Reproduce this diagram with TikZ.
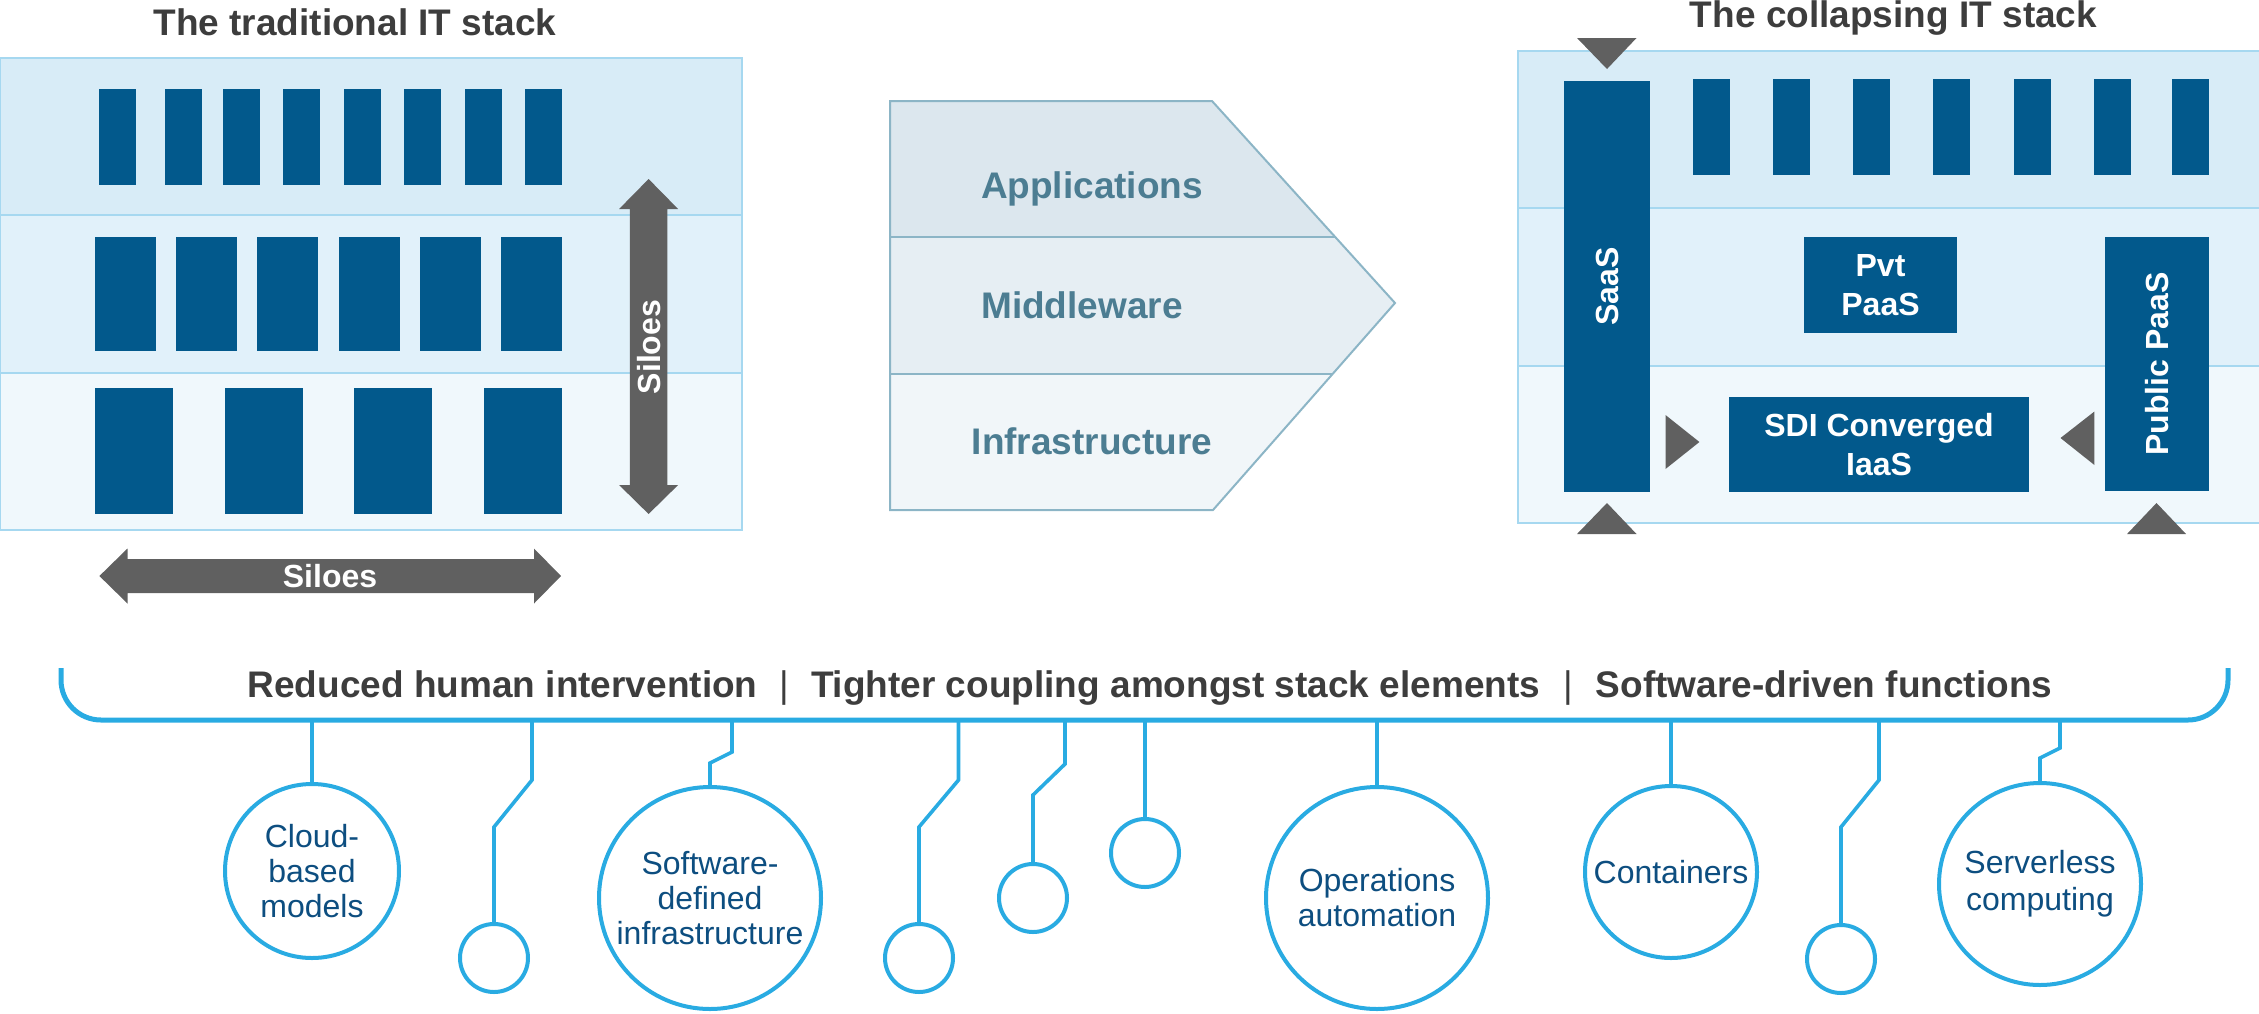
\documentclass[tikz,border=0pt]{standalone}
\usepackage{fontspec}
\setmainfont{Liberation Sans}
\definecolor{barblue}{HTML}{02598C}
\definecolor{bandA}{HTML}{D8ECF7}
\definecolor{bandB}{HTML}{E1F1FA}
\definecolor{bandC}{HTML}{F0F8FC}
\definecolor{bandline}{HTML}{A6D8F0}
\definecolor{arrowgray}{HTML}{606060}
\definecolor{titlegray}{HTML}{3D3D3D}
\definecolor{pentA}{HTML}{DCE7EE}
\definecolor{pentB}{HTML}{E6EEF3}
\definecolor{pentC}{HTML}{F1F6F9}
\definecolor{pentline}{HTML}{8CB5C6}
\definecolor{penttext}{HTML}{4C7D92}
\definecolor{cyanline}{HTML}{29ABE2}
\definecolor{circtext}{HTML}{0D4E80}
\tikzset{
  titletext/.style={font=\bfseries\fontsize{18.5pt}{22pt}\selectfont, text=titlegray, inner sep=0pt, anchor=base},
  layertext/.style={font=\bfseries\fontsize{18.5pt}{22pt}\selectfont, text=penttext, inner sep=0pt, anchor=base},
  bluebox/.style={fill=barblue, inner sep=0pt, text=white, align=center, font=\bfseries\fontsize{16pt}{19.5pt}\selectfont},
  silotext/.style={text=white, inner sep=0pt, font=\bfseries\fontsize{16pt}{19pt}\selectfont},
  bracketline/.style={draw=cyanline, line width=2.5pt, rounded corners=20pt},
  conn/.style={draw=cyanline, line width=1.8pt},
  bubble/.style={circle, draw=cyanline, line width=2pt, fill=white, inner sep=0pt, text=circtext, align=center, font=\fontsize{16pt}{17.5pt}\selectfont},
  dot/.style={bubble, minimum size=34pt},
  pipe/.style={font=\fontsize{18.5pt}{22pt}\selectfont, text=titlegray, inner sep=0pt, anchor=base}
}
\begin{document}
\begin{tikzpicture}[x=0.5pt,y=-0.5pt]
\useasboundingbox (0,0) rectangle (2259,1013);

% ---------- left panel ----------
\node[titletext] (tl) at (355,35) {The traditional IT stack};
\fill[bandA] (0,57.5) rectangle (742,215);
\fill[bandB] (0,215) rectangle (742,373);
\fill[bandC] (0,373) rectangle (742,530);
\draw[bandline, line width=1pt] (0,57.5) rectangle (742,530);
\draw[bandline, line width=1pt] (0,215) -- (742,215) (0,373) -- (742,373);
\foreach \x in {99,165,223,283,344,404,465,525} \fill[barblue] (\x,89) rectangle ++(37,96);
\foreach \x in {95,176,257,339,420,501} \fill[barblue] (\x,237) rectangle ++(61,114);
\foreach \x in {95,225,354,484} \fill[barblue] (\x,388) rectangle ++(78,126);
% vertical double arrow
\fill[arrowgray] (648.6,179) -- (678.1,209) -- (667.3,209) -- (667.3,485) -- (678.1,485)
  -- (648.6,514) -- (619.1,485) -- (629.9,485) -- (629.9,209) -- (619.1,209) -- cycle;
\node[silotext, rotate=90] (sv) at (648.6,347) {Siloes};
% horizontal double arrow
\fill[arrowgray] (99.4,576) -- (127.5,548.5) -- (127.5,559) -- (534,559) -- (534,548.5)
  -- (561,576) -- (534,603.5) -- (534,593) -- (127.5,593) -- (127.5,603.5) -- cycle;
\node[silotext] (sh) at (330,576) {Siloes};

% ---------- middle panel ----------
\begin{scope}
\clip (890,101) -- (1212,101) -- (1395,303) -- (1213,510) -- (890,510) -- cycle;
\fill[pentA] (880,90) rectangle (1400,237);
\fill[pentB] (880,237) rectangle (1400,374);
\fill[pentC] (880,374) rectangle (1400,520);
\end{scope}
\draw[pentline, line width=1pt] (890,101) -- (1212,101) -- (1395,303) -- (1213,510) -- (890,510) -- cycle;
\draw[pentline, line width=1pt] (890,237) -- (1335,237) (890,374) -- (1332.6,374);
\node[layertext] (la) at (1092,198) {Applications};
\node[layertext] (lm) at (1082,318) {Middleware};
\node[layertext] (li) at (1092,454) {Infrastructure};

% ---------- right panel ----------
\node[titletext] (tr) at (1893.5,27.5) {The collapsing IT stack};
\fill[bandA] (1518,50.6) rectangle (2270,208);
\fill[bandB] (1518,208) rectangle (2270,365.7);
\fill[bandC] (1518,365.7) rectangle (2270,522.7);
\draw[bandline, line width=1pt] (2270,50.6) -- (1518,50.6) -- (1518,522.7) -- (2270,522.7);
\draw[bandline, line width=1pt] (1518,208) -- (2270,208) (1518,365.7) -- (2270,365.7);
\foreach \x in {1693,1773,1853,1933,2014,2094,2172} \fill[barblue] (\x,79) rectangle ++(37,96);
\node[bluebox, rotate=90, minimum width=205.5pt, minimum height=43pt] (saas) at (1607,286.5) {SaaS};
\node[bluebox, minimum width=76.5pt, minimum height=48pt] (pvt) at (1880.5,285) {Pvt\\PaaS};
\node[bluebox, rotate=90, minimum width=127pt, minimum height=52pt] (pub) at (2157,364) {Public PaaS};
\node[bluebox, minimum width=150pt, minimum height=47.5pt, font=\bfseries\fontsize{16pt}{19.5pt}\selectfont] (sdi) at (1879,444.5) {SDI Converged\\IaaS};
\fill[arrowgray] (1577,38) -- (1636.5,38) -- (1607,69) -- cycle;
\fill[arrowgray] (1577,534) -- (1636.5,534) -- (1607,503) -- cycle;
\fill[arrowgray] (2127,534) -- (2186,534) -- (2156.5,503) -- cycle;
\fill[arrowgray] (1665.5,415) -- (1665.5,469) -- (1699.4,442) -- cycle;
\fill[arrowgray] (2094.4,411.5) -- (2094.4,465) -- (2060.5,438) -- cycle;

% ---------- bottom ----------
\draw[bracketline] (61,668) -- (61,720) -- (2228,720) -- (2228,668);
\node[titletext] (h1) at (502.6,697) {Reduced human intervention};
\node[pipe] (p1) at (784,697) {|};
\node[titletext] (h2) at (1175.6,697) {Tighter coupling amongst stack elements};
\node[pipe] (p2) at (1568,697) {|};
\node[titletext] (h3) at (1824,697) {Software-driven functions};

\coordinate (t1) at (312,720);
\coordinate (t2) at (532,720);
\coordinate (t3) at (732,720);
\coordinate (t4) at (958.5,720);
\coordinate (t5) at (1065,720);
\coordinate (t6) at (1145,720);
\coordinate (t7) at (1377,720);
\coordinate (t8) at (1671,720);
\coordinate (t9) at (1879,720);
\coordinate (t10) at (2060,720);

\node[bubble, minimum size=87pt] (c1) at (312,871) {Cloud-\\based\\models};
\node[dot] (s1) at (494,958) {};
\node[bubble, minimum size=111pt] (c2) at (710,898) {Software-\\defined\\infrastructure};
\node[dot] (s2) at (919,958) {};
\node[dot] (s3) at (1033,898) {};
\node[dot] (s4) at (1145,853) {};
\node[bubble, minimum size=111pt] (c3) at (1377,898) {Operations\\automation};
\node[bubble, minimum size=86pt] (c4) at (1671,872) {Containers};
\node[dot] (s5) at (1841,959) {};
\node[bubble, minimum size=101pt, font=\fontsize{16pt}{18.3pt}\selectfont] (c5) at (2040,884) {Serverless\\computing};

\draw[conn] (t1) -- (c1.north);
\draw[conn] (t2) -- (532,780) -- (494,827) -- (s1.north);
\draw[conn] (t3) -- (732,752) -- (710,763) -- (c2.north);
\draw[conn] (t4) -- (958.5,780) -- (919,827) -- (s2.north);
\draw[conn] (t5) -- (1065,764) -- (1033,795) -- (s3.north);
\draw[conn] (t6) -- (s4.north);
\draw[conn] (t7) -- (c3.north);
\draw[conn] (t8) -- (c4.north);
\draw[conn] (t9) -- (1879,780) -- (1841,827) -- (s5.north);
\draw[conn] (t10) -- (2060,748) -- (2040,758) -- (c5.north);
\end{tikzpicture}
\end{document}
